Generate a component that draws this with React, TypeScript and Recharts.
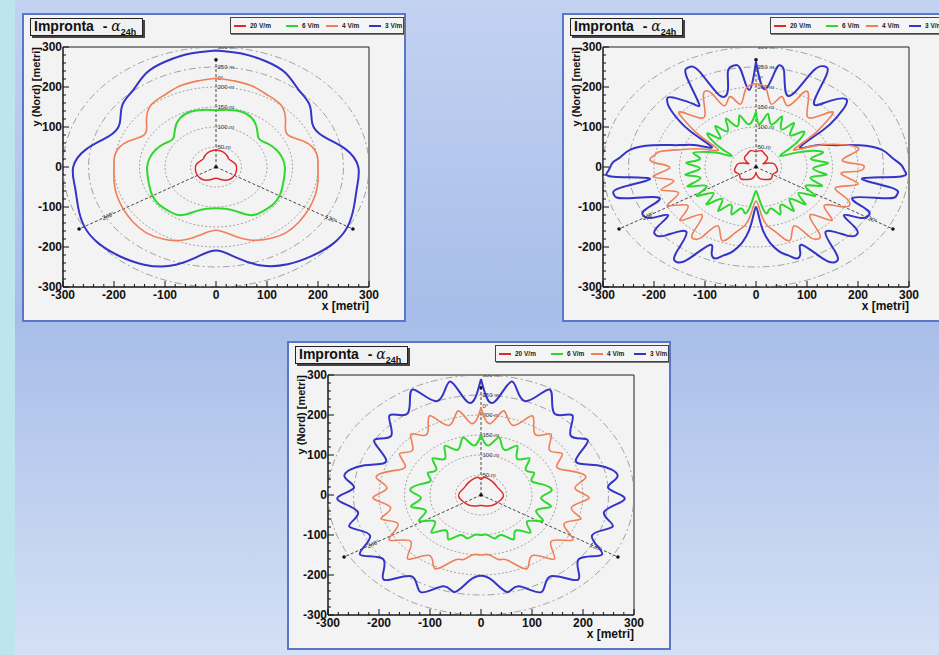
import { ScatterChart, Scatter, XAxis, YAxis, ReferenceArea } from 'recharts';

// distance rings around the site (m) and their captions
const ringRadii = [50, 100, 150, 200, 250, 300];
const ringLabels = ['50 m', '100 m', '150 m', '200 m', '250 m', '300 m'];

// antenna sector bearings, how far the dashed line reaches and where its caption sits
const sectorBearings = [0, 120, 240];
const sectorReach = [268, 310, 310];
const sectorLabels = ['0°', '120°', '240°'];
const sectorLabelRadius = [222, 260, 244];

const majorTicks = [-300, -200, -100, 0, 100, 200, 300];
const minorTicks = [
  -300, -280, -260, -240, -220, -200, -180, -160, -140, -120, -100, -80, -60, -40, -20, 0,
  20, 40, 60, 80, 100, 120, 140, 160, 180, 200, 220, 240, 260, 280, 300,
];

const seriesNames = ['20 V/m', '6 V/m', '4 V/m', '3 V/m'];
const seriesColors = ['#e02a2a', '#2fd82f', '#f07e56', '#3434c6'];
const seriesWidths = [1.5, 2, 1.6, 2];
const legendOffsets = [3, 55, 95, 138];

// field contours as [bearing deg (clockwise from north), distance m]
// scenario 1
const p1Red = [[0, 43], [20, 40], [40, 35], [50, 32], [60, 33], [80, 39], [100, 41], [120, 42], [140, 41], [160, 34], [180, 28], [200, 34], [220, 41], [240, 42], [260, 41], [280, 39], [300, 33], [310, 32], [320, 35], [340, 40]];
const p1Green = [[0, 142], [10, 145], [20, 147], [30, 141], [40, 125], [50, 110], [60, 117], [70, 126], [80, 132], [90, 135], [100, 136], [110, 139], [120, 144], [130, 146], [140, 144], [150, 139], [160, 118], [170, 106], [180, 103], [190, 106], [200, 118], [210, 139], [220, 144], [230, 146], [240, 144], [250, 139], [260, 136], [270, 135], [280, 132], [290, 126], [300, 117], [310, 110], [320, 125], [330, 141], [340, 147], [350, 145]];
const p1Orange = [[0, 222], [10, 218], [20, 214], [30, 206], [40, 200], [50, 178], [60, 162], [70, 185], [80, 200], [90, 200], [100, 203], [110, 207], [120, 210], [130, 213], [140, 214], [150, 207], [160, 194], [170, 172], [180, 158], [190, 172], [200, 195], [210, 208], [220, 214], [230, 213], [240, 210], [250, 207], [260, 203], [270, 200], [280, 200], [290, 185], [300, 162], [310, 178], [320, 200], [330, 206], [340, 214], [350, 218]];
const p1Blue = [[0, 291], [10, 288], [20, 282], [30, 272], [40, 252], [50, 240], [60, 218], [70, 224], [80, 258], [90, 279], [100, 281], [110, 288], [120, 298], [130, 299], [140, 291], [150, 281], [160, 262], [170, 230], [180, 209], [190, 230], [200, 263], [210, 282], [220, 292], [230, 299], [240, 298], [250, 288], [260, 281], [270, 280], [280, 258], [290, 224], [300, 218], [310, 240], [320, 252], [330, 272], [340, 282], [350, 288]];

// scenario 2
const p2Red = [[0, 38], [15, 42], [30, 36], [45, 32], [55, 22], [60, 16], [65, 22], [75, 35], [90, 40], [105, 43], [120, 38], [135, 42], [150, 36], [165, 30], [175, 20], [180, 14], [185, 20], [195, 30], [210, 36], [225, 42], [240, 38], [255, 43], [270, 40], [285, 35], [295, 22], [300, 16], [305, 22], [315, 32], [330, 36], [345, 42]];
const p2Green = [[0, 138], [4, 108], [10, 135], [16, 110], [22, 136], [28, 106], [34, 133], [40, 104], [46, 128], [51, 112], [55, 80], [60, 55], [65, 82], [70, 118], [75, 135], [80, 110], [86, 142], [92, 112], [98, 140], [104, 110], [110, 138], [116, 108], [122, 137], [128, 106], [134, 135], [140, 104], [146, 133], [152, 106], [158, 128], [164, 108], [170, 118], [175, 85], [180, 60], [185, 85], [190, 118], [196, 108], [202, 128], [208, 106], [214, 133], [220, 104], [226, 135], [232, 106], [238, 137], [244, 108], [250, 143], [256, 112], [262, 140], [268, 110], [274, 137], [280, 112], [286, 128], [292, 100], [296, 78], [300, 55], [304, 80], [308, 112], [312, 125], [316, 100], [322, 130], [328, 105], [334, 135], [340, 108], [346, 133], [352, 108]];
const p2Orange = [[0, 208], [6, 195], [11, 160], [16, 183], [22, 165], [26, 200], [28, 214], [31, 200], [36, 170], [42, 165], [47, 202], [50, 185], [55, 130], [60, 85], [65, 125], [72, 180], [78, 205], [84, 170], [88, 202], [90, 212], [93, 200], [96, 168], [102, 205], [108, 165], [114, 195], [120, 200], [126, 165], [132, 200], [138, 160], [143, 204], [146, 217], [149, 203], [153, 165], [160, 195], [166, 170], [171, 150], [175, 120], [180, 85], [185, 120], [189, 150], [194, 170], [200, 195], [207, 165], [211, 203], [214, 217], [217, 204], [222, 160], [228, 200], [234, 165], [241, 198], [247, 165], [253, 195], [258, 165], [263, 203], [269, 170], [273, 198], [276, 208], [279, 200], [282, 190], [287, 150], [293, 115], [300, 85], [305, 130], [310, 185], [313, 202], [318, 165], [324, 170], [329, 200], [332, 214], [335, 200], [338, 165], [344, 183], [349, 160], [354, 195]];
const p2Blue = [[0, 263], [5, 195], [9, 245], [11, 258], [13, 245], [17, 198], [22, 200], [25, 265], [28, 285], [31, 268], [35, 198], [40, 210], [43, 232], [46, 245], [49, 232], [52, 200], [55, 160], [60, 100], [65, 128], [70, 160], [75, 210], [80, 250], [85, 268], [89, 285], [92, 292], [95, 280], [98, 210], [101, 270], [104, 285], [107, 268], [112, 205], [116, 240], [119, 252], [122, 240], [125, 210], [128, 248], [131, 260], [134, 246], [140, 212], [144, 268], [147, 284], [150, 266], [155, 215], [158, 232], [161, 242], [164, 230], [168, 215], [175, 160], [180, 100], [185, 160], [192, 215], [196, 230], [199, 242], [202, 232], [205, 215], [210, 266], [213, 284], [216, 268], [220, 212], [226, 246], [229, 260], [232, 248], [235, 210], [238, 240], [241, 252], [244, 240], [248, 205], [253, 268], [256, 287], [259, 270], [262, 210], [265, 280], [268, 290], [272, 282], [275, 268], [280, 250], [285, 210], [290, 160], [295, 128], [300, 100], [305, 160], [310, 215], [312, 232], [315, 245], [318, 230], [322, 200], [325, 196], [329, 265], [332, 282], [335, 265], [338, 195], [344, 200], [347, 245], [350, 257], [353, 245], [356, 193]];

// scenario 3
const p3Red = [[0, 38], [8, 45], [20, 43], [35, 40], [50, 38], [65, 38], [80, 42], [95, 44], [110, 40], [125, 37], [140, 34], [155, 30], [170, 27], [180, 26], [190, 27], [205, 30], [220, 34], [235, 37], [250, 40], [265, 44], [280, 42], [295, 38], [310, 38], [325, 40], [340, 43], [352, 45]];
const p3Green = [[0, 150], [7, 125], [14, 148], [22, 122], [30, 142], [38, 115], [46, 132], [54, 108], [62, 118], [70, 105], [78, 125], [86, 138], [94, 118], [102, 140], [110, 115], [118, 138], [126, 112], [134, 135], [142, 112], [150, 128], [158, 108], [166, 112], [173, 100], [180, 100], [187, 100], [194, 112], [202, 108], [210, 128], [218, 112], [226, 135], [234, 112], [242, 138], [250, 115], [258, 140], [266, 118], [274, 138], [282, 125], [290, 105], [298, 118], [306, 108], [314, 132], [322, 115], [330, 142], [338, 122], [346, 148], [353, 125]];
const p3Orange = [[0, 218], [6, 180], [12, 215], [20, 185], [27, 222], [35, 185], [42, 205], [50, 175], [57, 190], [64, 165], [71, 185], [78, 210], [85, 185], [92, 212], [100, 180], [107, 205], [114, 178], [122, 212], [130, 180], [138, 215], [146, 182], [154, 205], [162, 172], [168, 165], [174, 150], [180, 150], [186, 150], [192, 165], [198, 172], [206, 205], [214, 182], [222, 215], [230, 180], [238, 212], [246, 178], [253, 205], [260, 180], [268, 212], [275, 185], [282, 210], [289, 185], [296, 165], [303, 190], [310, 175], [318, 205], [325, 185], [333, 222], [340, 185], [348, 215], [354, 180]];
const p3Blue = [[0, 290], [6, 232], [12, 290], [20, 250], [27, 296], [35, 250], [42, 268], [50, 230], [57, 250], [65, 205], [72, 240], [80, 272], [86, 250], [92, 282], [100, 245], [107, 270], [115, 240], [122, 280], [130, 250], [138, 285], [146, 245], [154, 270], [162, 240], [168, 248], [174, 215], [180, 202], [186, 215], [192, 248], [198, 240], [206, 270], [214, 245], [222, 285], [230, 250], [238, 280], [245, 240], [253, 270], [260, 245], [268, 282], [274, 250], [280, 272], [288, 240], [295, 205], [303, 250], [310, 230], [318, 268], [325, 250], [333, 296], [340, 250], [348, 290], [354, 232]];

const rad = (deg: number) => (deg * Math.PI) / 180;

// bearing/distance -> x (east), y (north); loop closed back on the first point
const toXY = (pts: number[][]) => {
  const out = pts.map(([deg, r]) => ({ x: r * Math.sin(rad(deg)), y: r * Math.cos(rad(deg)) }));
  out.push(out[0]);
  return out;
};

const ringPoints = ringRadii.map((r) => {
  const pts = [];
  for (let a = 0; a <= 360; a += 3) pts.push({ x: r * Math.sin(rad(a)), y: r * Math.cos(rad(a)) });
  return pts;
});

const sectorLines = sectorBearings.map((b, i) => [
  { x: 0, y: 0 },
  { x: sectorReach[i] * Math.sin(rad(b)), y: sectorReach[i] * Math.cos(rad(b)) },
]);
const sectorEnds = sectorLines.map((l) => l[1]).concat([{ x: 0, y: 0 }]);
const sectorCaptions = sectorBearings.map((b, i) => ({
  x: b === 0 ? 3 : sectorLabelRadius[i] * Math.sin(rad(b)),
  y: sectorLabelRadius[i] * Math.cos(rad(b)),
  label: sectorLabels[i],
  rot: b === 0 ? 0 : b === 120 ? 24 : -24,
}));
const ringCaptions = ringRadii.map((r, i) => ({ x: 3, y: r, label: ringLabels[i] }));

const panel1 = [p1Red, p1Green, p1Orange, p1Blue];
const panel2 = [p2Red, p2Green, p2Orange, p2Blue];
const panel3 = [p3Red, p3Green, p3Orange, p3Blue];

const FONT = '"Liberation Sans", Arial, Helvetica, sans-serif';
const noDot = () => <g />;

const XTick = ({ x, y, payload }: any) => {
  const major = majorTicks.includes(payload.value);
  return (
    <g>
      <line x1={x} x2={x} y1={y} y2={y - (major ? 6 : 3)} stroke="#111" />
      {major ? (
        <text x={x} y={y + 12} textAnchor="middle" fontFamily={FONT} fontWeight={700} fontSize={12} fill="#111">
          {payload.value}
        </text>
      ) : null}
    </g>
  );
};

const YTick = ({ x, y, payload }: any) => {
  const major = majorTicks.includes(payload.value);
  return (
    <g>
      <line x1={x} x2={x + (major ? 6 : 3)} y1={y} y2={y} stroke="#111" />
      {major ? (
        <text x={x - 1} y={y + 4} textAnchor="end" fontFamily={FONT} fontWeight={700} fontSize={12} fill="#111">
          {payload.value}
        </text>
      ) : null}
    </g>
  );
};

function Panel({ left, top, curves }: { left: number; top: number; curves: number[][][] }) {
  const traces = curves.map(toXY);
  const order = [3, 2, 1, 0];
  return (
    <div
      style={{
        position: 'absolute',
        left,
        top,
        width: 380,
        height: 305,
        border: '2px solid #5a76c8',
        background: '#f3f3f3',
      }}
    >
      <ScatterChart width={380} height={305} margin={{ top: 32, right: 35, bottom: 0, left: 0 }}>
        <XAxis
          type="number"
          dataKey="x"
          domain={[-300, 300]}
          ticks={minorTicks}
          interval={0}
          height={33}
          tickSize={0}
          tickMargin={0}
          tickLine={false}
          tick={XTick}
          axisLine={{ stroke: '#111' }}
          allowDataOverflow
        />
        <YAxis
          type="number"
          dataKey="y"
          domain={[-300, 300]}
          ticks={minorTicks}
          interval={0}
          width={39}
          tickSize={0}
          tickMargin={0}
          tickLine={false}
          tick={YTick}
          axisLine={{ stroke: '#111' }}
          allowDataOverflow
        />
        <ReferenceArea x1={-300} x2={300} y1={-300} y2={300} fill="none" stroke="#222" strokeWidth={1} />
        {ringPoints.map((pts, i) => (
          <Scatter
            key={'ring' + i}
            data={pts}
            line={{ stroke: '#8d8d8d', strokeWidth: 0.8, strokeDasharray: i < 4 ? '2 2' : '7 3 2 3' }}
            lineJointType="linear"
            shape={noDot}
            legendType="none"
            isAnimationActive={false}
          />
        ))}
        {sectorLines.map((pts, i) => (
          <Scatter
            key={'sector' + i}
            data={pts}
            line={{ stroke: '#333', strokeWidth: 0.9, strokeDasharray: '3 2' }}
            shape={noDot}
            legendType="none"
            isAnimationActive={false}
          />
        ))}
        <Scatter
          data={sectorEnds}
          shape={(p: any) => <circle cx={p.cx} cy={p.cy} r={1.8} fill="#111" />}
          legendType="none"
          isAnimationActive={false}
        />
        <Scatter
          data={ringCaptions}
          shape={(p: any) => (
            <text x={p.cx} y={p.cy + 2} fontFamily={FONT} fontSize={6} fill="#333">
              {p.payload.label}
            </text>
          )}
          legendType="none"
          isAnimationActive={false}
        />
        <Scatter
          data={sectorCaptions}
          shape={(p: any) => (
            <text
              x={p.cx}
              y={p.cy + 2}
              fontFamily={FONT}
              fontSize={6}
              fill="#333"
              textAnchor={p.payload.rot === 0 ? 'start' : 'middle'}
              transform={`rotate(${p.payload.rot} ${p.cx} ${p.cy})`}
            >
              {p.payload.label}
            </text>
          )}
          legendType="none"
          isAnimationActive={false}
        />
        {order.map((k) => (
          <Scatter
            key={seriesNames[k]}
            name={seriesNames[k]}
            data={traces[k]}
            fill={seriesColors[k]}
            line={{ stroke: seriesColors[k], strokeWidth: seriesWidths[k] }}
            lineJointType="natural"
            shape={noDot}
            isAnimationActive={false}
          />
        ))}
      </ScatterChart>

      <div
        style={{
          position: 'absolute',
          left: 6,
          top: 3,
          width: 113,
          height: 18,
          boxSizing: 'border-box',
          border: '1px solid #222',
          boxShadow: '2px 2px 0 #444',
          background: '#f1f1f1',
          fontFamily: FONT,
          fontWeight: 700,
          fontSize: 14,
          lineHeight: '15px',
          paddingLeft: 3,
          whiteSpace: 'nowrap',
          color: '#111',
        }}
      >
        Impronta <span style={{ marginLeft: 5 }}>-</span>{' '}
        <span style={{ fontFamily: '"DejaVu Serif", serif', fontWeight: 400, fontStyle: 'italic' }}>α</span>
        <sub style={{ fontSize: 9 }}>24h</sub>
      </div>

      <div
        style={{
          position: 'absolute',
          left: 206,
          top: 2,
          width: 174,
          height: 17,
          boxSizing: 'border-box',
          border: '1px solid #444',
          boxShadow: '1px 1px 0 #777',
          background: '#f5f5f5',
        }}
      >
        {seriesNames.map((n, i) => (
          <div
            key={n}
            style={{
              position: 'absolute',
              left: legendOffsets[i],
              top: 3,
              height: 9,
              display: 'flex',
              alignItems: 'center',
              whiteSpace: 'nowrap',
            }}
          >
            <span style={{ display: 'inline-block', width: 12, height: 2, background: seriesColors[i], marginRight: 4 }} />
            <span style={{ fontFamily: FONT, fontWeight: 700, fontSize: 6.5, color: '#222' }}>{n}</span>
          </div>
        ))}
      </div>

      <div
        style={{
          position: 'absolute',
          right: 35,
          top: 284,
          fontFamily: FONT,
          fontWeight: 700,
          fontSize: 12,
          lineHeight: '14px',
          color: '#111',
          whiteSpace: 'nowrap',
        }}
      >
        x [metri]
      </div>
      <div
        style={{
          position: 'absolute',
          left: 6,
          top: 32,
          writingMode: 'vertical-rl',
          transform: 'rotate(180deg)',
          fontFamily: FONT,
          fontWeight: 700,
          fontSize: 11,
          lineHeight: '13px',
          color: '#111',
          whiteSpace: 'nowrap',
        }}
      >
        y (Nord) [metri]
      </div>
    </div>
  );
}

export default function App() {
  return (
    <div
      style={{
        position: 'absolute',
        left: 0,
        top: 0,
        width: 939,
        height: 655,
        overflow: 'hidden',
        background: 'linear-gradient(180deg, #c3d2f1 0%, #a7bde9 48%, #d4e0f5 100%)',
      }}
    >
      <div style={{ position: 'absolute', left: 0, top: 0, width: 15, height: 655, background: '#bce5ef' }} />
      <Panel left={22} top={13} curves={panel1} />
      <Panel left={562} top={13} curves={panel2} />
      <Panel left={287} top={341} curves={panel3} />
    </div>
  );
}
